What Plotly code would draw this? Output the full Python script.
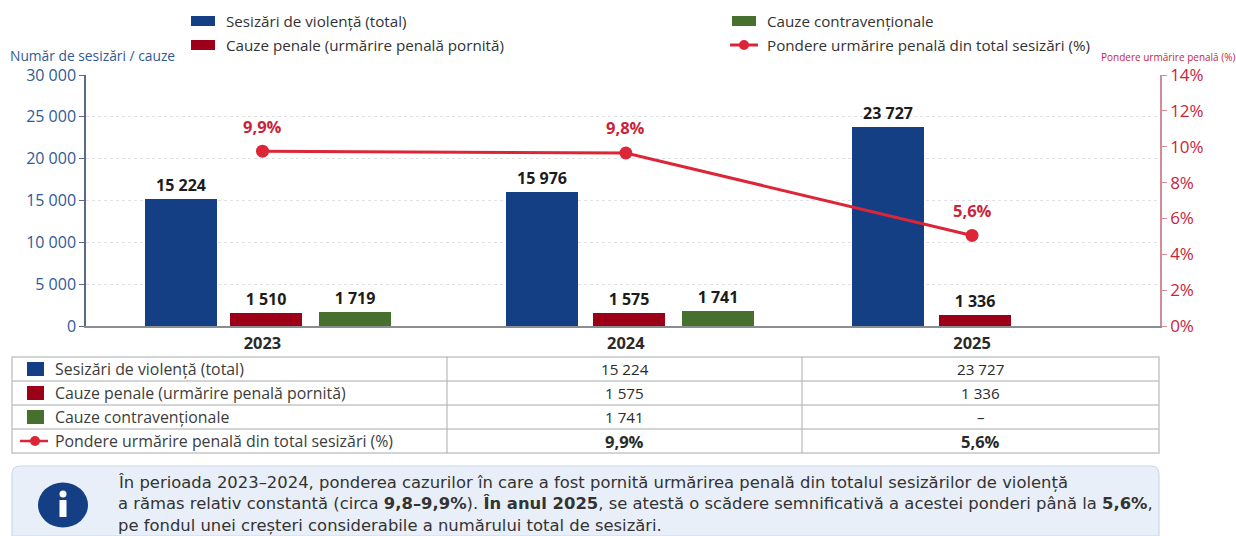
import plotly.graph_objects as go

W, H = 1236, 536
FONT = "Open Sans"
NOTE_FONT = "DejaVu Sans"

YEARS = ["2023", "2024", "2025"]
SESIZARI = [15224, 15976, 23727]
PENALE = [1510, 1575, 1336]
CONTRAV = [1719, 1741, None]
SHARE_DRAWN = [9.75, 9.65, 5.05]
SHARE_LABELS = ["9,9%", "9,8%", "5,6%"]
SESIZARI_TEXT = ["15 224", "15 976", "23 727"]
PENALE_TEXT = ["1 510", "1 575", "1 336"]
CONTRAV_TEXT = ["1 719", "1 741", ""]
LEFT_TICKS = [0, 5000, 10000, 15000, 20000, 25000, 30000]
LEFT_TEXT = ["0", "5 000", "10 000", "15 000", "20 000", "25 000", "30 000"]
RIGHT_TICKS = [0, 2, 4, 6, 8, 10, 12, 14]
RIGHT_TEXT = ["0%", "2%", "4%", "6%", "8%", "10%", "12%", "14%"]

NAMES = ["Sesizări de violență (total)", "Cauze penale (urmărire penală pornită)",
         "Cauze contravenționale", "Pondere urmărire penală din total sesizări (%)"]
TABLE_COL1 = ["15 224", "1 575", "1 741", "<b>9,9%</b>"]
TABLE_COL2 = ["23 727", "1 336", "–", "<b>5,6%</b>"]
NOTE = ["În perioada 2023–2024, ponderea cazurilor în care a fost pornită urmărirea penală din totalul sesizărilor de violență",
        "a rămas relativ constantă (circa <b>9,8–9,9%</b>). <b>În anul 2025</b>, se atestă o scădere semnificativă a acestei ponderi până la <b>5,6%</b>,",
        "pe fondul unei creșteri considerabile a numărului total de sesizări."]

BLUE, RED, GREEN, LINE = "#143f84", "#9c0018", "#47702f", "#dc2638"
AXBLUE, AXRED = "#2f5a96", "#c9243a"

PL, PR, PT, PB = 86, 1160, 75, 326
def px(x): return x / W
def py(y): return 1 - y / H

YEAR_NUM = [0, 1, 2]
CENTRE_SHIFT = [-0.007, 0.008, -0.025]
CENTRES = [n + s for n, s in zip(YEAR_NUM, CENTRE_SHIFT)]
BAR_W = 72 / 358
OFF_BLUE = [-0.227, -0.233, -0.236]
OFF_RED = [0.011, 0.008, 0.007]
OFF_GREEN = [0.257, 0.258, 0]

def at(offs):
    return [c + o for c, o in zip(CENTRES, offs)]

def bar(vals, txt, offs, name, col):
    return go.Bar(x=at(offs), y=vals, width=BAR_W, name=name, marker=dict(color=col, line_width=0),
                  text=txt, textposition="outside", cliponaxis=False, showlegend=False,
                  textfont=dict(family=FONT, size=16, color="#1c1c1c", weight="bold"),
                  textangle=0, hoverinfo="skip")

fig = go.Figure()
fig.add_trace(bar(SESIZARI, SESIZARI_TEXT, OFF_BLUE, NAMES[0], BLUE))
fig.add_trace(bar(CONTRAV, CONTRAV_TEXT, OFF_GREEN, NAMES[2], GREEN))
fig.add_trace(bar(PENALE, PENALE_TEXT, OFF_RED, NAMES[1], RED))
fig.add_trace(go.Scatter(x=CENTRES, y=SHARE_DRAWN, yaxis="y2", mode="lines+markers", name=NAMES[3],
                         line=dict(color=LINE, width=3), marker=dict(color=LINE, size=13),
                         showlegend=False, hoverinfo="skip", cliponaxis=False))

annots = []
for c, v, t in zip(CENTRES, SHARE_DRAWN, SHARE_LABELS):
    annots.append(dict(x=c, y=v, xref="x", yref="y2", text=f"<b>{t}</b>", showarrow=False, yshift=25,
                       font=dict(family=FONT, size=16.5, color="#c9243a")))

def label(x, y, text, size, col, anchor="left", family=FONT):
    annots.append(dict(x=px(x), y=py(y), xref="paper", yref="paper", xanchor=anchor, yanchor="middle",
                       text=text, showarrow=False, borderpad=0, font=dict(family=family, size=size, color=col)))

label(9, 55, "Număr de sesizări / cauze", 13.8, AXBLUE)
label(1236, 57, "Pondere urmărire penală (%)", 10, AXRED, "right")

shapes = []
def rect(x0, y0, x1, y1, fill=None, line=None, lw=1):
    shapes.append(dict(type="rect", xref="paper", yref="paper", x0=px(x0), x1=px(x1), y0=py(y0), y1=py(y1),
                       fillcolor=fill or "rgba(0,0,0,0)", line=dict(color=line or "rgba(0,0,0,0)", width=lw), layer="above"))

def seg(x0, y0, x1, y1, col, lw=1):
    shapes.append(dict(type="line", xref="paper", yref="paper", x0=px(x0), x1=px(x1), y0=py(y0), y1=py(y1),
                       line=dict(color=col, width=lw), layer="above"))

def oval(cx, cy, rx, ry, col):
    shapes.append(dict(type="circle", xref="paper", yref="paper", x0=px(cx - rx), x1=px(cx + rx),
                       y0=py(cy + ry), y1=py(cy - ry), fillcolor=col, line=dict(width=0), layer="above"))

# legend, drawn by hand for its wide swatches and row spacing
LEG_SIZE = 15.2
for (sx, sy, col, name) in ((191, 21, BLUE, NAMES[0]), (191, 45, RED, NAMES[1]), (732, 21, GREEN, NAMES[2])):
    rect(sx, sy - 5, sx + 24, sy + 5, fill=col)
    label(sx + 34, sy, name, LEG_SIZE, "#333333")
seg(730, 45, 758, 45, LINE, 3)
oval(744, 45, 5, 5, LINE)
label(766, 45, NAMES[3], LEG_SIZE, "#333333")

# table
TBL_L, TBL_C1, TBL_C2, TBL_R = 12, 447, 802, 1159
TBL_T, ROW_H = 357, 24
BORDER = "#c4c6c9"
rect(TBL_L, TBL_T, TBL_R, TBL_T + 4 * ROW_H, line=BORDER, lw=1.5)
for i in range(1, 4):
    seg(TBL_L, TBL_T + i * ROW_H, TBL_R, TBL_T + i * ROW_H, BORDER, 1.3)
seg(TBL_C1, TBL_T, TBL_C1, TBL_T + 4 * ROW_H, "#a9acb0", 1)
seg(TBL_C2, TBL_T, TBL_C2, TBL_T + 4 * ROW_H, "#a9acb0", 1)
for i, (name, a, b) in enumerate(zip(NAMES, TABLE_COL1, TABLE_COL2)):
    cy = TBL_T + (i + 0.5) * ROW_H
    label(54, cy, name, 15.9, "#3c3c3c")
    size = 16.5 if i == 3 else 15.2
    label((TBL_C1 + TBL_C2) / 2, cy, a, size, "#2a2a2a", "center")
    label((TBL_C2 + TBL_R) / 2, cy, b, size, "#2a2a2a", "center")
for i, col in enumerate((BLUE, RED, GREEN)):
    cy = TBL_T + (i + 0.5) * ROW_H
    rect(27, cy - 7, 44, cy + 7, fill=col)
cy = TBL_T + 3.5 * ROW_H
seg(20, cy, 48, cy, LINE, 2.5)
oval(35, cy, 5, 5, LINE)

# note box with rounded top corners
def X(v): return f"{px(v)}"
def Y(v): return f"{py(v)}"
box = (f"M {X(12)} {Y(536)} L {X(12)} {Y(474)} Q {X(12)} {Y(466)} {X(20)} {Y(466)} "
       f"L {X(1151)} {Y(466)} Q {X(1159)} {Y(466)} {X(1159)} {Y(474)} L {X(1159)} {Y(536)} Z")
shapes.append(dict(type="path", xref="paper", yref="paper", path=box, fillcolor="#e9eff8",
                   line=dict(color="#ccd8ea", width=1.2), layer="above"))
oval(63, 505, 25, 22.5, BLUE)
oval(63, 494, 3.5, 3.5, "#ffffff")
rect(59.5, 500, 66.5, 517, fill="#ffffff")
for ty, line in zip((482, 503.5, 525), NOTE):
    label(117, ty, line, 16.4, "#333333", family=NOTE_FONT)

fig.update_layout(
    width=W, height=H, margin=dict(l=0, r=0, t=0, b=0), autosize=False,
    paper_bgcolor="white", plot_bgcolor="white", barmode="overlay", bargap=0, showlegend=False,
    font=dict(family=FONT, color="#333333"),
    xaxis=dict(automargin=False, domain=[px(PL), px(PR)], range=[-0.5, 2.5], tickmode="array", tickvals=CENTRES,
               ticktext=[f"<b>{y}</b>" for y in YEARS], showgrid=False, zeroline=False, showline=True,
               linecolor="#8a8d92", linewidth=1.5, ticks="", tickfont=dict(family=FONT, size=16.4, color="#2a2a2a"),
               ticklabelstandoff=2, anchor="y"),
    yaxis=dict(automargin=False, domain=[py(PB), py(PT)], range=[0, 30000], tickmode="array", tickvals=LEFT_TICKS, ticktext=LEFT_TEXT,
               showgrid=True, griddash="3px,3px", gridcolor="#dfe1e4", gridwidth=1, zeroline=False,
               showline=True, linecolor="#5a6b85", linewidth=1.5, ticks="outside", ticklen=5, tickcolor="#5a6b85",
               tickfont=dict(family=FONT, size=16, color=AXBLUE)),
    yaxis2=dict(automargin=False, domain=[py(PB), py(PT)], range=[0, 14], overlaying="y", side="right", anchor="x",
                tickmode="array", tickvals=RIGHT_TICKS, ticktext=RIGHT_TEXT, showgrid=False, zeroline=False,
                showline=True, linecolor="#d58a94", linewidth=1.5, ticks="outside", ticklen=5, tickcolor="#d58a94",
                tickfont=dict(family=FONT, size=17, color=AXRED)),
    annotations=annots, shapes=shapes,
)
fig.write_html("out.html", config={"displayModeBar": False}, post_script="document.body.style.margin='0';")
